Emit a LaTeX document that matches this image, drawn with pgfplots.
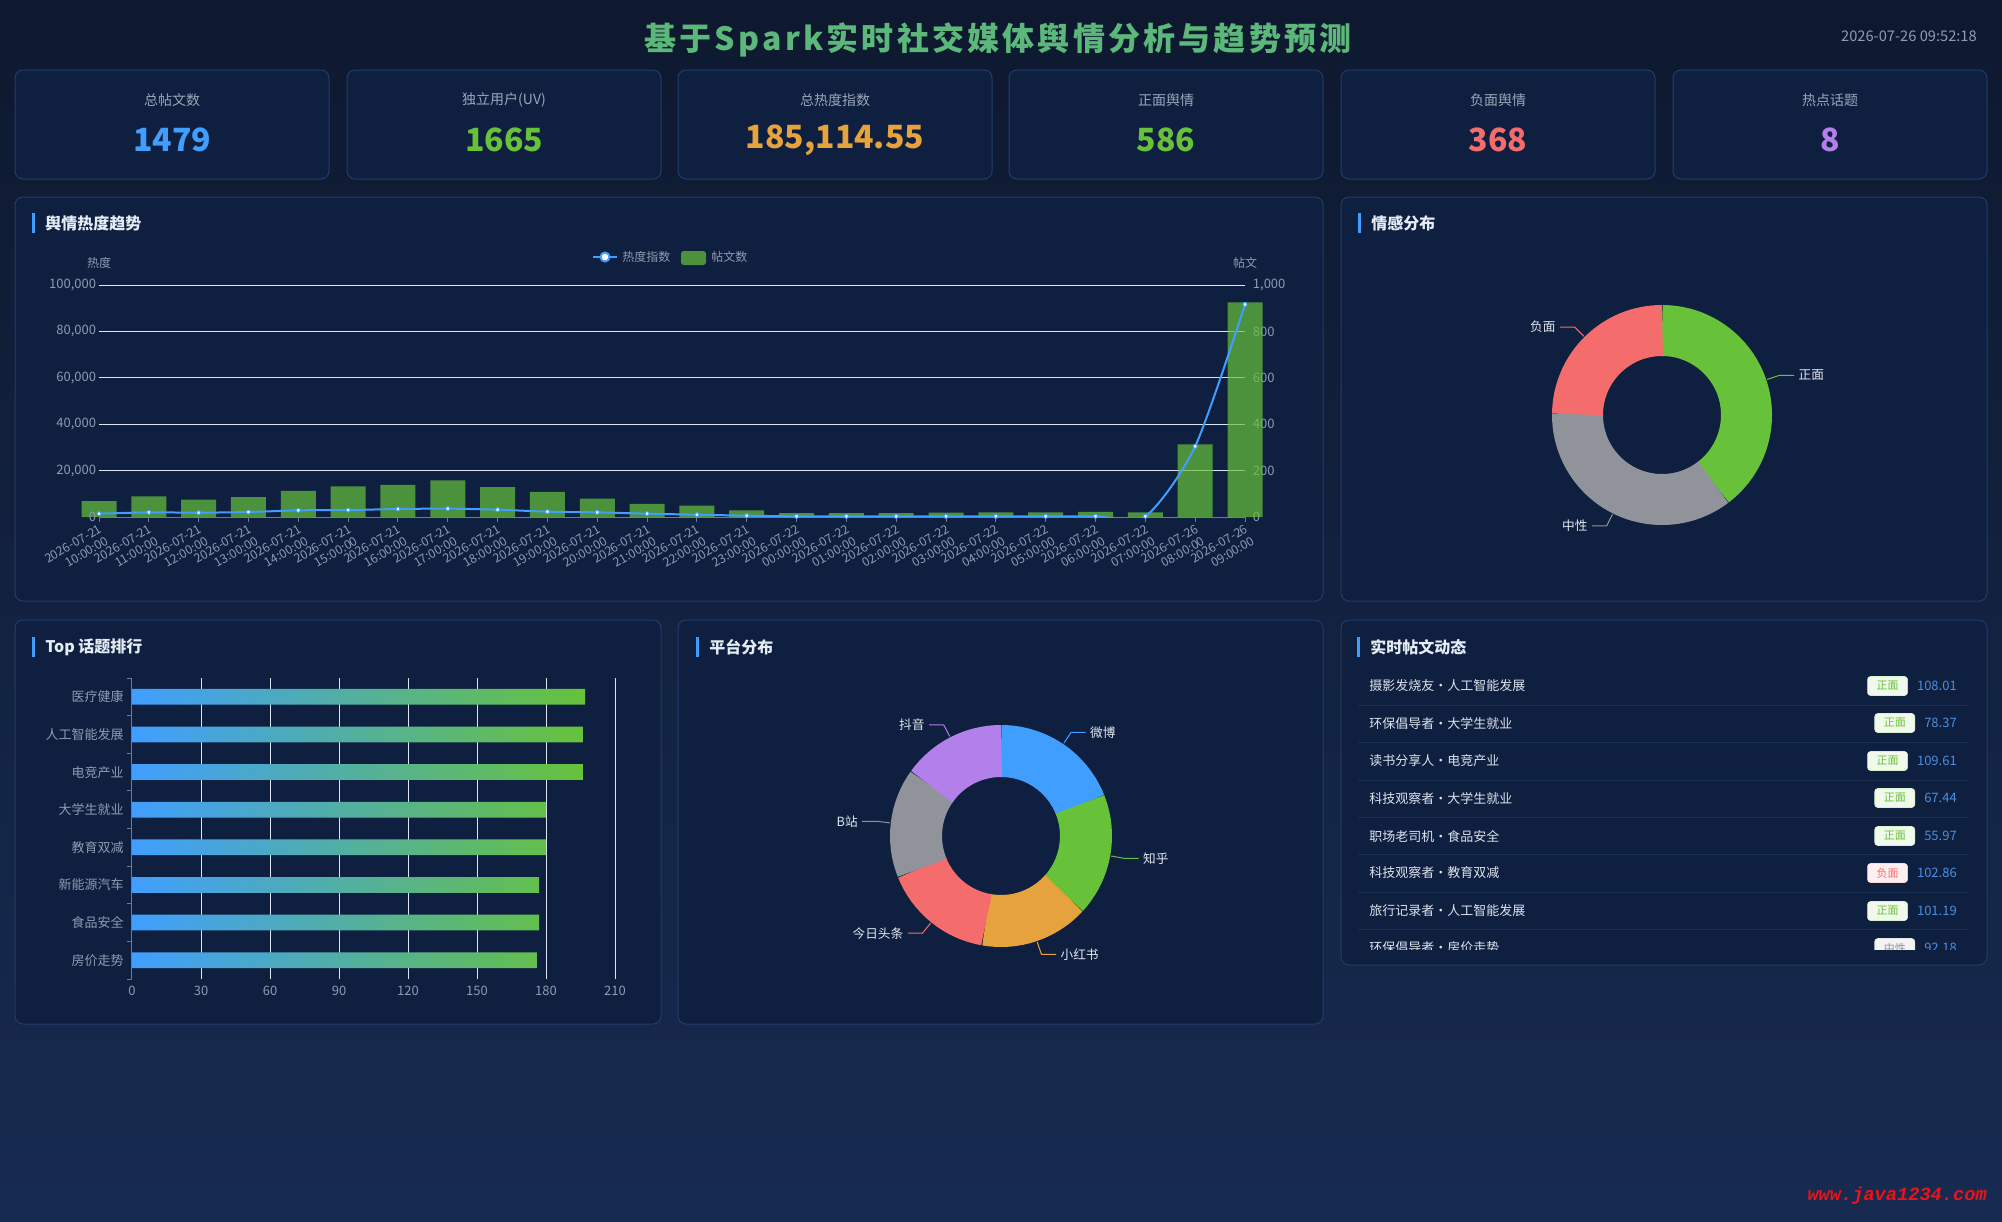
\documentclass[border=0pt]{standalone}
\usepackage{fontspec}
\setmainfont{Noto Sans CJK SC}
\newfontfamily\wmfont{Liberation Mono}
\usepackage{pgfplots}
\pgfplotsset{compat=1.18}

\definecolor{bgtop}{HTML}{0E192F}
\definecolor{bgbot}{HTML}{172A50}
\definecolor{panel}{HTML}{0F1F3F}
\definecolor{pborder}{HTML}{213D6B}
\definecolor{ctitle}{HTML}{E6ECF5}
\definecolor{cblue}{HTML}{409EFF}
\definecolor{cgreen}{HTML}{67C23A}
\definecolor{corange}{HTML}{E6A23C}
\definecolor{cred}{HTML}{F56C6C}
\definecolor{cgray}{HTML}{909399}
\definecolor{cpurple}{HTML}{B37FEB}
\definecolor{ctick}{HTML}{8E9BB2}
\definecolor{gridc}{HTML}{E0E6F1}
\definecolor{axisc}{HTML}{6E7A8E}
\definecolor{barg}{HTML}{4E913C}
\definecolor{clbl}{HTML}{E2E8F2}
\definecolor{clist}{HTML}{DCE3EE}
\definecolor{cnum}{HTML}{4A8FE0}
\definecolor{csep}{HTML}{1B2F55}
\definecolor{ccard}{HTML}{9AA6BA}
\definecolor{cmain}{HTML}{5CB87A}
\definecolor{wmred}{HTML}{E8141C}

\newcommand{\fs}[1]{\fontsize{#1}{#1}\selectfont}

% sentiment values: positive, neutral, negative
\pgfmathsetmacro\sTot{586+525+368}
\pgfmathsetmacro\sA{90}
\pgfmathsetmacro\sB{\sA-586/\sTot*360}
\pgfmathsetmacro\sC{\sB-525/\sTot*360}
\pgfmathsetmacro\sD{\sC-368/\sTot*360}
% platform values
\pgfmathsetmacro\pTot{280+264+236+239+236+224}
\pgfmathsetmacro\pA{90}
\pgfmathsetmacro\pB{\pA-280/\pTot*360}
\pgfmathsetmacro\pC{\pB-264/\pTot*360}
\pgfmathsetmacro\pD{\pC-236/\pTot*360}
\pgfmathsetmacro\pE{\pD-239/\pTot*360}
\pgfmathsetmacro\pF{\pE-236/\pTot*360}
\pgfmathsetmacro\pG{\pF-224/\pTot*360}

\newcommand{\ring}[5]{\draw[#3, line width={(#5-#4)*0.75pt}] (axis cs:{(#4+#5)/2*cos(#1)},{(#4+#5)/2*sin(#1)}) arc[start angle={#1}, end angle={#2-0.3}, radius={(#4+#5)/2*0.75pt}];}
\newcommand{\leadR}[4]{\draw[#3, line width=0.75pt] (axis cs:{(#2+1)*cos(#1)},{(#2+1)*sin(#1)}) -- (axis cs:{(#2+14)*cos(#1)},{(#2+14)*sin(#1)}) -- ++(11pt,0pt) node[anchor=west, text=clbl, font=\fs{9.5}, inner sep=3pt] {#4};}
\newcommand{\leadL}[4]{\draw[#3, line width=0.75pt] (axis cs:{(#2+1)*cos(#1)},{(#2+1)*sin(#1)}) -- (axis cs:{(#2+14)*cos(#1)},{(#2+14)*sin(#1)}) -- ++(-11pt,0pt) node[anchor=east, text=clbl, font=\fs{9.5}, inner sep=3pt] {#4};}

\newcommand{\card}[4]{%
 \draw[fill=panel, draw=pborder, line width=0.75pt, rounded corners=6pt] (#1,70) rectangle ++(314,109);
 \node[text=ccard, font=\fs{10.5}, inner sep=0pt] at (#1+157,100) {#2};
 \node[text=#4, font=\fs{24}\bfseries, inner sep=0pt] at (#1+157,140) {#3};
}
\newcommand{\panel}[4]{\draw[fill=panel, draw=pborder, line width=0.75pt, rounded corners=6pt] (#1,#2) rectangle (#3,#4);}
\newcommand{\ptitle}[3]{\fill[cblue] (#1-13,#2-10) rectangle (#1-10,#2+10); \node[anchor=west, text=ctitle, font=\fs{12}\bfseries, inner sep=0pt] at (#1,#2) {#3};}
\newcommand{\prow}[5]{%
 \node[anchor=west, text=clist, font=\fs{9.75}, inner sep=0pt] at (1369,#1) {#2};
 \node[anchor=east, text=cnum, font=\fs{9.75}, inner sep=0pt] (nn) at (1957,#1) {#5};
 \node[anchor=east, fill=#4!10, draw=#4!25, rounded corners=2.25pt, minimum width=30pt, minimum height=14.25pt, inner sep=0pt, text=#4, font=\fs{8.25}] at ([xshift=-6.75pt]nn.west) {#3};
}

\begin{document}
\begin{tikzpicture}[x=0.75pt,y=-0.75pt]
\useasboundingbox (0,0) rectangle (2002,1221);
\shade[top color=bgtop, bottom color=bgbot] (0,0) rectangle (2002,1221);

% header
\node[text=cmain, font=\fs{24}\bfseries\addfontfeature{LetterSpace=10}, inner sep=0pt] at (998,40) {基于Spark实时社交媒体舆情分析与趋势预测};
\node[anchor=east, text=ctick, font=\fs{11}, inner sep=0pt] at (1977,36) {2026-07-26 09:52:18};

% KPI cards
\card{15}{总帖文数}{1479}{cblue}
\card{347}{独立用户(UV)}{1665}{cgreen}
\card{678}{总热度指数}{185,114.55}{corange}
\card{1009}{正面舆情}{586}{cgreen}
\card{1341}{负面舆情}{368}{cred}
\card{1673}{热点话题}{8}{cpurple}

% panels
\panel{15}{197}{1323}{601}
\panel{1341}{197}{1987}{601}
\panel{15}{620}{661}{1024}
\panel{678}{620}{1323}{1024}
\panel{1341}{620}{1987}{965}
\ptitle{45}{223}{舆情热度趋势}
\ptitle{1371}{223}{情感分布}
\ptitle{45}{647}{Top 话题排行}
\ptitle{709}{647}{平台分布}
\ptitle{1370}{647}{实时帖文动态}

% ---------- trend chart ----------
\node[text=ctick, font=\fs{9}, inner sep=0pt] at (99,263) {热度};
\node[text=ctick, font=\fs{9}, inner sep=0pt] at (1245,263) {帖文};
\draw[cblue, line width=1.5pt] (593,257) -- (617,257);
\filldraw[fill=white, draw=cblue, line width=1.5pt] (605,257) circle[radius=4.5];
\node[anchor=west, text=ctick, font=\fs{9}, inner sep=0pt] at (622,257) {热度指数};
\fill[barg, rounded corners=2pt] (681,251) rectangle (706,265);
\node[anchor=west, text=ctick, font=\fs{9}, inner sep=0pt] at (711,257) {帖文数};

\begin{axis}[
  at={(99*0.75pt,-517*0.75pt)}, anchor=south west, scale only axis,
  width=859.5pt, height=174pt,
  xmin=0, xmax=23, ymin=0, ymax=1000,
  clip=false,
  axis x line*=bottom, axis y line*=right,
  x axis line style={-, draw=axisc, line width=0.75pt},
  y axis line style={draw=none},
  ytick={0,200,400,600,800,1000},
  ymajorgrids, major grid style={draw=gridc, line width=0.75pt},
  ytick style={draw=none},
  xtick={0,...,23},
  xtick style={draw=axisc, line width=0.75pt},
  tick align=outside, major tick length=3.75pt,
  xticklabels={{2026-07-21\\10:00:00},{2026-07-21\\11:00:00},{2026-07-21\\12:00:00},{2026-07-21\\13:00:00},{2026-07-21\\14:00:00},{2026-07-21\\15:00:00},{2026-07-21\\16:00:00},{2026-07-21\\17:00:00},{2026-07-21\\18:00:00},{2026-07-21\\19:00:00},{2026-07-21\\20:00:00},{2026-07-21\\21:00:00},{2026-07-21\\22:00:00},{2026-07-21\\23:00:00},{2026-07-22\\00:00:00},{2026-07-22\\01:00:00},{2026-07-22\\02:00:00},{2026-07-22\\03:00:00},{2026-07-22\\04:00:00},{2026-07-22\\05:00:00},{2026-07-22\\06:00:00},{2026-07-22\\07:00:00},{2026-07-26\\08:00:00},{2026-07-26\\09:00:00}},
  xticklabel style={rotate=30, anchor=north east, align=right, font=\fontsize{9.25}{10.25}\selectfont, text=ctick, inner sep=1pt},
  yticklabel style={font=\fs{9.75}, text=ctick, anchor=west, inner sep=0pt, xshift=2pt},
  /pgf/number format/assume math mode=true,
  /pgf/number format/1000 sep={,},
]
\addplot[ybar, bar width=26.25pt, fill=cgreen, fill opacity=0.7, draw=none] coordinates {
(0,69) (1,89) (2,75) (3,86) (4,113) (5,132) (6,138) (7,158) (8,129) (9,108) (10,79) (11,57)
(12,49) (13,29) (14,17) (15,17) (16,17) (17,19) (18,20) (19,20) (20,22) (21,20) (22,313) (23,925)};
\end{axis}

% heat index line (clipped to the plot area so the smooth curve stays above 0)
\begin{axis}[
  at={(99*0.75pt,-517*0.75pt)}, anchor=south west, scale only axis,
  width=859.5pt, height=174pt,
  xmin=0, xmax=23, ymin=0, ymax=100000,
  clip=true,
  axis x line=none, axis y line*=left,
  y axis line style={draw=none},
  ytick={0,20000,40000,60000,80000,100000}, ytick style={draw=none},
  scaled y ticks=false,
  yticklabel style={font=\fs{9.75}, text=ctick, anchor=east, inner sep=0pt, xshift=-2pt, /pgf/number format/fixed, /pgf/number format/1000 sep={,}},
  /pgf/number format/assume math mode=true,
]
\addplot[smooth, tension=0.45, cblue, line width=1.5pt, mark=none] coordinates {
(0,1437) (1,2000) (2,1870) (3,2150) (4,2870) (5,3000) (6,3450) (7,3600) (8,3160) (9,2300) (10,2000) (11,1440)
(12,1000) (13,575) (14,290) (15,290) (16,290) (17,300) (18,310) (19,300) (20,320) (21,300) (22,30460) (23,91600)};
\end{axis}
% heat index markers
\begin{axis}[
  at={(99*0.75pt,-517*0.75pt)}, anchor=south west, scale only axis,
  width=859.5pt, height=174pt,
  xmin=0, xmax=23, ymin=0, ymax=100000,
  clip=false, hide axis,
]
\addplot[only marks, mark=*, mark size=1.5pt, mark options={fill=white, draw=cblue, line width=0.75pt}] coordinates {
(0,1437) (1,2000) (2,1870) (3,2150) (4,2870) (5,3000) (6,3450) (7,3600) (8,3160) (9,2300) (10,2000) (11,1440)
(12,1000) (13,575) (14,290) (15,290) (16,290) (17,300) (18,310) (19,300) (20,320) (21,300) (22,30460) (23,91600)};
\end{axis}

% ---------- sentiment donut ----------
\begin{axis}[at={(1662*0.75pt,-415*0.75pt)}, anchor=origin, hide axis, x=0.75pt, y=0.75pt,
  xmin=-160, xmax=160, ymin=-130, ymax=130, clip=false]
\ring{\sA}{\sB}{cgreen}{59}{110}
\ring{\sB}{\sC}{cgray}{59}{110}
\ring{\sC}{\sD}{cred}{59}{110}
\leadR{(\sA+\sB)/2}{110}{cgreen}{正面}
\leadL{(\sB+\sC)/2}{110}{cgray}{中性}
\leadL{(\sC+\sD)/2}{110}{cred}{负面}
\end{axis}

% ---------- top topics ----------
\begin{axis}[
  at={(132*0.75pt,-979*0.75pt)}, anchor=south west, scale only axis,
  width=362.25pt, height=225.75pt,
  xmin=0, xmax=210, ymin=-0.5, ymax=7.5,
  axis x line*=bottom, axis y line*=left,
  x axis line style={draw=none}, y axis line style={-, draw=axisc, line width=0.75pt},
  xtick={0,30,...,210}, xmajorgrids, major grid style={draw=gridc, line width=0.75pt},
  xtick style={draw=none},
  ytick={0,...,7},
  yticklabels={房价走势,食品安全,新能源汽车,教育双减,大学生就业,电竞产业,人工智能发展,医疗健康},
  minor ytick={-0.5,0.5,...,7.5},
  ytick style={draw=axisc, line width=0.75pt},
  tick align=outside, major tick length=0pt, minor tick length=3.75pt,
  yticklabel style={font=\fs{9.75}, text=ctick, anchor=east, inner sep=0pt, xshift=-6pt},
  xticklabel style={font=\fs{9.75}, text=ctick, anchor=north, inner sep=0pt, yshift=-5pt},
  /pgf/number format/assume math mode=true,
]
\addplot[xbar, bar width=11.8pt, draw=none, left color=cblue, right color=cgreen] coordinates {
(176,0) (177,1) (177,2) (180,3) (180,4) (196,5) (196,6) (197,7)};
\end{axis}

% ---------- platform donut ----------
\begin{axis}[at={(1001*0.75pt,-836*0.75pt)}, anchor=origin, hide axis, x=0.75pt, y=0.75pt,
  xmin=-160, xmax=160, ymin=-130, ymax=130, clip=false]
\ring{\pA}{\pB}{cblue}{59}{111}
\ring{\pB}{\pC}{cgreen}{59}{111}
\ring{\pC}{\pD}{corange}{59}{111}
\ring{\pD}{\pE}{cred}{59}{111}
\ring{\pE}{\pF}{cgray}{59}{111}
\ring{\pF}{\pG}{cpurple}{59}{111}
\leadR{(\pA+\pB)/2}{111}{cblue}{微博}
\leadR{(\pB+\pC)/2}{111}{cgreen}{知乎}
\leadR{(\pC+\pD)/2}{111}{corange}{小红书}
\leadL{(\pD+\pE)/2}{111}{cred}{今日头条}
\leadL{(\pE+\pF)/2}{111}{cgray}{B站}
\leadL{(\pF+\pG)/2}{111}{cpurple}{抖音}
\end{axis}

% ---------- realtime list ----------
\begin{scope}
\clip (1341,665) rectangle (1987,949);
\foreach \yy in {705,742,780,817,854,892,929} {\draw[csep, line width=0.75pt] (1358,\yy) -- (1969,\yy);}
\prow{686}{摄影发烧友·人工智能发展}{正面}{cgreen}{108.01}
\prow{723}{环保倡导者·大学生就业}{正面}{cgreen}{78.37}
\prow{761}{读书分享人·电竞产业}{正面}{cgreen}{109.61}
\prow{798}{科技观察者·大学生就业}{正面}{cgreen}{67.44}
\prow{836}{职场老司机·食品安全}{正面}{cgreen}{55.97}
\prow{873}{科技观察者·教育双减}{负面}{cred}{102.86}
\prow{911}{旅行记录者·人工智能发展}{正面}{cgreen}{101.19}
\prow{948}{环保倡导者·房价走势}{中性}{cgray}{92.18}
\end{scope}

% watermark
\node[anchor=east, text=wmred, font=\wmfont\bfseries\itshape\fs{14}, inner sep=0pt] at (1987,1196) {www.java1234.com};
\end{tikzpicture}
\end{document}
